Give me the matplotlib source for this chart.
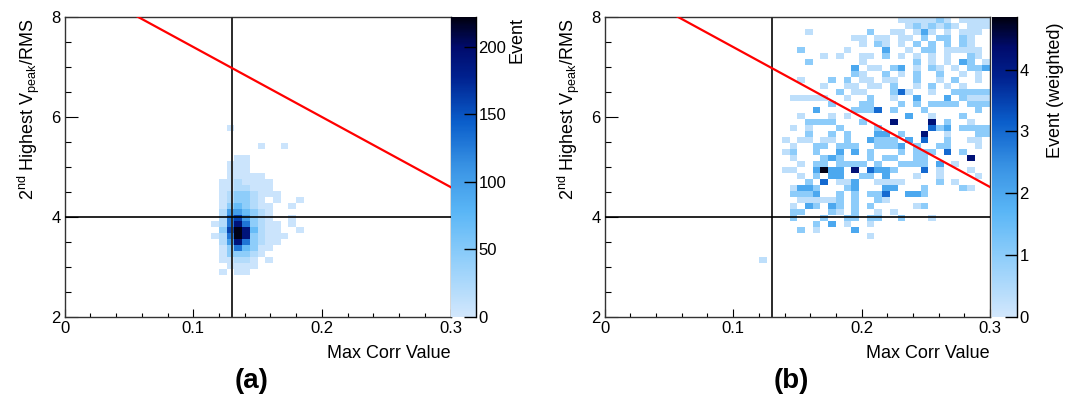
import numpy as np
import matplotlib
matplotlib.use("Agg")
import matplotlib.pyplot as plt
from matplotlib.colors import LinearSegmentedColormap, Normalize
from matplotlib.ticker import MultipleLocator

plt.rcParams['font.family'] = ['Liberation Sans', 'DejaVu Sans']
plt.rcParams['mathtext.fontset'] = 'custom'
plt.rcParams['mathtext.rm'] = 'Liberation Sans'
plt.rcParams['mathtext.it'] = 'Liberation Sans:italic'

# ---------------- data ----------------
n_bins = 50
x_range = (0.0, 0.3)
y_range = (2.0, 8.0)
x_cut = 0.13
y_cut = 4.0
line_intercept = 8.8      # red cut line: y = intercept + slope * x
line_slope = -14.0

# panel (a): event counts, level code -> counts
a_levels = {'1': 5, '2': 20, '3': 45, '4': 70, '5': 100, '6': 130, '7': 160, '8': 190, '9': 220}
a_col0 = 17          # first x bin index of the strings
a_row_top = 31       # y bin index of first string
a_rows = [
    "....1...........",  # 31
    "................",  # 30
    "................",  # 29
    "........1..1....",  # 28
    "................",  # 27
    ".....11.........",  # 26
    "....111.........",  # 25
    "....111.........",  # 24
    "....11111.......",  # 23
    "...1121111......",  # 22
    "...1122111......",  # 21
    "...12332111.....",  # 20
    "...123321.1..1..",  # 19
    "...1343211..1...",  # 18
    "...2554321......",  # 17
    "...2675321..1...",  # 16
    "..126863211.1...",  # 15
    "...37984211..1..",  # 14
    "..1269832111....",  # 13
    "...25863211.....",  # 12
    "...1364311......",  # 11
    "...133321.......",  # 10
    "...11221.1......",  # 9
    "....1111........",  # 8
    "...1.11.........",  # 7
]
a_zmax = 222
a_cticks = [0, 50, 100, 150, 200]

# panel (b): weighted events
b_levels = {'1': 0.3, '2': 1.0, '3': 2.0, '4': 3.0, '5': 4.2, '6': 4.8}
b_col0 = 20
b_row_top = 49
b_rows = [
    "..................1111121.1111",   # 49
    "...................1212121.111",   # 48
    "......1.......2..11.131.1.111.",   # 47
    "............11.11.11.2.22.21..",   # 46
    ".............1.21.1.2.2.2.21..",   # 45
    ".....2.....1....3..1.22.11111.",   # 44
    "........1.1..11.2.1.1.1.1..21.",   # 43
    "......2......1......2.1.1.32.1",   # 42
    "............3.11.23.1.21.1.223",   # 41
    "............21..2.1.2..2..1.1.",   # 40
    ".....1...2.2.11.11..2..1.2..1.",   # 39
    "........1..11.11.2..1.2.1.1...",   # 38
    "..........2.11...241..1..22222",   # 37
    "....11111..1..2..1..3...3.2111",   # 36
    ".........2...22...2.2.2222.222",   # 35
    ".......3....2224.2...2......2.",   # 34
    ".....1...1.1.......3..1...2...",   # 33
    "......2222...2...5....5.2..1..",   # 32
    "....1.1...2....2......423.2222",   # 31
    "......2..2.2...33.2..5..1...22",   # 30
    "...1.11.11.2..3222.3.4..2..11.",   # 29
    "....1..22.222..2223.2..22...1.",   # 28
    "...12..2..3.3.2...2.222.4.2...",   # 27
    "....1...232...2.22..22.....5..",   # 26
    ".....1.22.2222.2..2222.3.1....",   # 25
    "...11..3633.5.4332...4.1...1..",   # 24
    ".....1.2.33..22.3...1..1....1.",   # 23
    "......2.4.113..1111....2.1....",   # 22
    "....1332...23...33...2....21..",   # 21
    "....2223..2.2.224..332........",   # 20
    ".....111112.2..21.............",   # 19
    "....1.32.32.2.2.....12........",   # 18
    "....22...21.2..1.1............",   # 17
    "....2...2..22.22..2...1.......",   # 16
    ".......2.3.1..1...............",   # 15
    ".....2.1....3.................",   # 14
    "..............1...............",   # 13
    "..............................",   # 12
    "..............................",   # 11
    "..............................",   # 10
    "1.............................",   # 9
]
b_zmax = 4.85
b_cticks = [0, 1, 2, 3, 4]

x_ticks = [0, 0.1, 0.2, 0.3]
x_ticklabels = ["0", "0.1", "0.2", "0.3"]
y_ticks = [2, 4, 6, 8]
x_title = "Max Corr Value"
y_title = r"2$^{\mathrm{nd}}$ Highest V$_{\mathrm{peak}}$/RMS"
z_titles = ["Event", "Event (weighted)"]
panel_tags = ["(a)", "(b)"]


def build(rows, levels, col0, row_top):
    z = np.zeros((n_bins, n_bins))
    for r, s in enumerate(rows):
        j = row_top - r
        for c, ch in enumerate(s):
            i = col0 + c
            if ch in levels and 0 <= i < n_bins:
                z[j, i] = levels[ch]
    return np.ma.masked_where(z <= 0, z)


cmap = LinearSegmentedColormap.from_list("rootblues", [
    (0.00, "#d2e7fc"),
    (0.20, "#8ecdfa"),
    (0.35, "#5ab6f6"),
    (0.50, "#3993e4"),
    (0.65, "#0a5ecb"),
    (0.80, "#00218f"),
    (0.90, "#000b6c"),
    (1.00, "#000010"),
])

W, H = 1067, 396
fig = plt.figure(figsize=(W / 100, H / 100), dpi=100)


def fx(px):
    return px / W


def fy(py):
    return 1 - py / H


xe = np.linspace(x_range[0], x_range[1], n_bins + 1)
ye = np.linspace(y_range[0], y_range[1], n_bins + 1)

panels = [
    dict(left=64.7, right=450.5, cb=(450.7, 475.7), z=build(a_rows, a_levels, a_col0, a_row_top),
         zmax=a_zmax, cticks=a_cticks, ztx=517, zty=17),
    dict(left=604.7, right=990.0, cb=(992.5, 1016.7), z=build(b_rows, b_levels, b_col0, b_row_top),
         zmax=b_zmax, cticks=b_cticks, ztx=1056, zty=22),
]
top_px, bot_px = 17, 317
fs_tick = 12
fs_title = 13

for k, p in enumerate(panels):
    ax = fig.add_axes([fx(p['left']), fy(bot_px), fx(p['right'] - p['left']), (bot_px - top_px) / H])
    norm = Normalize(0, p['zmax'])
    mesh = ax.pcolormesh(xe, ye, p['z'], cmap=cmap, norm=norm, shading='flat')
    ax.set_xlim(*x_range)
    ax.set_ylim(*y_range)
    ax.axvline(x_cut, color='#2a2a2a', lw=1.4, zorder=3)
    ax.axhline(y_cut, color='black', lw=1.2, zorder=3)
    lx = np.array(x_range)
    ax.plot(lx, line_intercept + line_slope * lx, color='#ff0000', lw=1.6, zorder=4)
    for sp in ax.spines.values():
        sp.set_color('#333333')
        sp.set_linewidth(1.0)
    ax.set_xticks(x_ticks)
    ax.set_xticklabels(x_ticklabels)
    ax.set_yticks(y_ticks)
    ax.xaxis.set_minor_locator(MultipleLocator(0.02))
    ax.yaxis.set_minor_locator(MultipleLocator(0.5))
    ax.tick_params(axis='x', which='major', direction='in', length=6, width=0.8, labelsize=fs_tick, pad=3)
    ax.tick_params(axis='x', which='minor', direction='in', length=3, width=0.8)
    ax.tick_params(axis='y', which='major', direction='in', length=9, width=0.8, labelsize=fs_tick, pad=3)
    ax.tick_params(axis='y', which='minor', direction='in', length=4.5, width=0.8)

    cax = fig.add_axes([fx(p['cb'][0]), fy(bot_px), fx(p['cb'][1] - p['cb'][0]), (bot_px - top_px) / H])
    cb = fig.colorbar(mesh, cax=cax)
    cb.outline.set_visible(False)
    cb.set_ticks(p['cticks'])
    cax.tick_params(axis='y', direction='in', length=9, width=1.0, right=True, left=False,
                    labelsize=fs_tick, pad=2)
    cax.yaxis.set_minor_locator(plt.NullLocator())
    cax.plot([1, 1], [0, 1], transform=cax.transAxes, color='black', lw=1.0, clip_on=False)

    fig.text(fx(p['right']), fy(353), x_title, ha='right', va='center', fontsize=fs_title)
    fig.text(fx(p['left'] - 36), fy(top_px + 1), y_title, rotation=90, ha='center', va='top',
             fontsize=fs_title)
    fig.text(fx(p['ztx']), fy(p['zty']), z_titles[k], rotation=90, ha='center', va='top',
             fontsize=fs_title)
    fig.text(fx((p['left'] + p['right']) / 2 - 6), fy(381), panel_tags[k], ha='center', va='center',
             fontsize=20, fontweight='bold')

fig.savefig("out.png", dpi=100)
